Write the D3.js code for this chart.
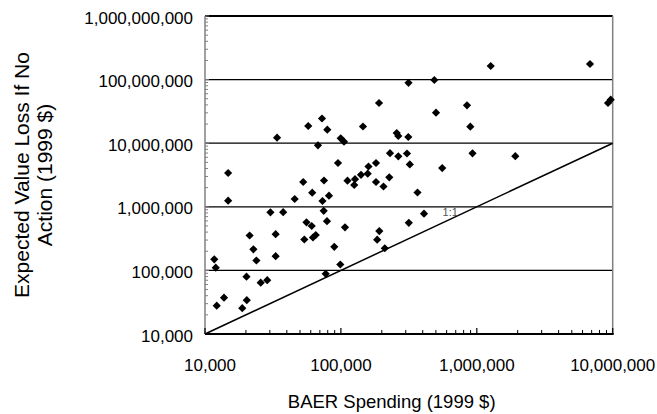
<!DOCTYPE html>
<html>
<head>
<meta charset="utf-8">
<script src="https://cdn.jsdelivr.net/npm/d3@7"></script>
<style>
  html, body { margin: 0; padding: 0; background: #fff; }
  svg { display: block; font-family: Arial, "Liberation Sans", sans-serif; }
</style>
</head>
<body>
<svg id="chart" width="657" height="414"></svg>
<script>
// BAER spending (1999 $)
const spending = [
  14800, 14800, 33900, 57500, 72600, 79400, 67800, 99700, 105400, 95200,
  145400, 190800, 314400, 486800, 1266000, 6808000, 501000, 847000, 896000, 9235000,
  9667000, 257400, 264500, 313300, 229800, 264500, 306400, 321400, 181300, 159600,
  140600, 157500, 127000, 111800, 125300, 181300, 205800, 227000, 556600, 930000,
  1920000, 366100, 408800, 316000, 52800, 75100, 61500, 45700, 73200, 81700,
  30300, 37600, 74700, 55800, 61000, 79000, 53800, 62300, 65300, 107200,
  89400, 99000, 191700, 184900, 210400, 77300, 21300, 22700, 23900, 33100,
  33100, 11700, 12000, 20200, 25700, 28700, 13800, 12200, 18800, 20300
];
// Expected value loss if no action (1999 $)
const expectedLoss = [
  3400000, 1250000, 12200000, 18640000, 24450000, 16310000, 9270000, 11940000, 10560000, 4880000,
  18300000, 42900000, 89100000, 98600000, 163600000, 175900000, 30170000, 39450000, 18170000, 42900000,
  48300000, 14470000, 12980000, 12520000, 6960000, 6220000, 6890000, 4630000, 4880000, 4300000,
  3185000, 3314000, 2716000, 2573000, 2202000, 2455000, 2085000, 2910000, 4070000, 6940000,
  6250000, 1678000, 779000, 560000, 2455000, 2591000, 1666000, 1326000, 1234000, 1494000,
  819000, 822000, 865000, 571000, 499000, 594000, 306000, 329000, 360000, 476000,
  235000, 123800, 416000, 304000, 223000, 88400, 354000, 214600, 143100, 371000,
  167200, 149400, 110300, 79600, 64050, 70140, 37220, 27860, 25450, 34000
];
const xTicks = [1e4, 1e5, 1e6, 1e7];
const yTicks = [1e4, 1e5, 1e6, 1e7, 1e8, 1e9];
const oneToOne = [1e4, 1e7];
const xTitle = "BAER Spending (1999 $)";
const yTitleLines = ["Expected Value Loss If No", "Action (1999 $)"];
const lineLabel = "1:1";

const svg = d3.select("#chart");
const L = 205, R = 612.7, T = 16, B = 334;
const x = d3.scaleLog().domain([1e4, 1e7]).range([L, R]);
const y = d3.scaleLog().domain([1e4, 1e9]).range([B, T]);
const fmt = d3.format(",");

// minor tick values
const minor = (lo, hi) => {
  const out = [];
  for (let d = lo; d < hi; d *= 10) for (let k = 2; k <= 9; k++) out.push(d * k);
  return out;
};

// gridlines
svg.append("g").selectAll("line").data(yTicks.filter(v => v > 1e4 && v < 1e9)).join("line")
  .attr("x1", L).attr("x2", R).attr("y1", d => y(d)).attr("y2", d => y(d))
  .attr("stroke", "#000").attr("stroke-width", 1.2);

// top border and right border
svg.append("line").attr("x1", L).attr("x2", R).attr("y1", y(1e9)).attr("y2", y(1e9))
  .attr("stroke", "#000").attr("stroke-width", 2);
svg.append("line").attr("x1", R).attr("x2", R).attr("y1", T).attr("y2", B)
  .attr("stroke", "#808080").attr("stroke-width", 1.5);

// left axis (ticks inward)
const yAxis = svg.append("g");
yAxis.append("line").attr("x1", L).attr("x2", L).attr("y1", T).attr("y2", B)
  .attr("stroke", "#808080").attr("stroke-width", 1.5);
yAxis.selectAll("line.minor").data(minor(1e4, 1e9)).join("line").attr("class", "minor")
  .attr("x1", L).attr("x2", L + 3).attr("y1", d => y(d)).attr("y2", d => y(d))
  .attr("stroke", "#808080").attr("stroke-width", 1);
yAxis.selectAll("line.major").data(yTicks).join("line").attr("class", "major")
  .attr("x1", L).attr("x2", L + 4).attr("y1", d => y(d)).attr("y2", d => y(d))
  .attr("stroke", "#808080").attr("stroke-width", 1);
yAxis.selectAll("text").data(yTicks).join("text")
  .attr("x", 193).attr("y", d => y(d) + 2).attr("text-anchor", "end")
  .attr("dominant-baseline", "central").attr("font-size", 17).attr("fill", "#000")
  .text(d => fmt(d));

// bottom axis (ticks inward)
const xAxis = svg.append("g");
xAxis.selectAll("line.minor").data(minor(1e4, 1e7)).join("line").attr("class", "minor")
  .attr("x1", d => x(d)).attr("x2", d => x(d)).attr("y1", B).attr("y2", B - 4)
  .attr("stroke", "#000").attr("stroke-width", 1);
xAxis.selectAll("line.major").data(xTicks).join("line").attr("class", "major")
  .attr("x1", d => x(d)).attr("x2", d => x(d)).attr("y1", B).attr("y2", B - 6)
  .attr("stroke", "#000").attr("stroke-width", 1.2);
xAxis.append("line").attr("x1", L).attr("x2", R + 1).attr("y1", B).attr("y2", B)
  .attr("stroke", "#000").attr("stroke-width", 2);
xAxis.selectAll("text").data(xTicks).join("text")
  .attr("x", d => x(d) + (d === 1e4 ? 5 : 0)).attr("y", 371).attr("text-anchor", "middle")
  .attr("font-size", 17).attr("fill", "#000")
  .text(d => fmt(d));

// 1:1 line
svg.append("line")
  .attr("x1", x(oneToOne[0])).attr("y1", y(oneToOne[0]))
  .attr("x2", x(oneToOne[1])).attr("y2", y(oneToOne[1]))
  .attr("stroke", "#000").attr("stroke-width", 1.5);
svg.append("text").attr("x", x(5.6e5)).attr("y", y(7.2e5))
  .attr("font-size", 11).attr("fill", "#555").text(lineLabel);

// points
const s = 4.1;
svg.append("g").selectAll("path").data(spending.map((v, i) => [v, expectedLoss[i]])).join("path")
  .attr("transform", d => `translate(${x(d[0])},${y(d[1])})`)
  .attr("d", `M0,${-s}L${s},0L0,${s}L${-s},0Z`)
  .attr("fill", "#000");

// axis titles
svg.append("text").attr("x", 391.7).attr("y", 408).attr("text-anchor", "middle")
  .attr("font-size", 18.5).attr("fill", "#000").text(xTitle);
const yt = svg.append("text").attr("transform", "translate(0,175) rotate(-90)")
  .attr("text-anchor", "middle").attr("font-size", 21).attr("fill", "#000");
yTitleLines.forEach((t, i) => yt.append("tspan").attr("x", 0).attr("y", 29 + i * 22.5).text(t));
</script>
</body>
</html>
